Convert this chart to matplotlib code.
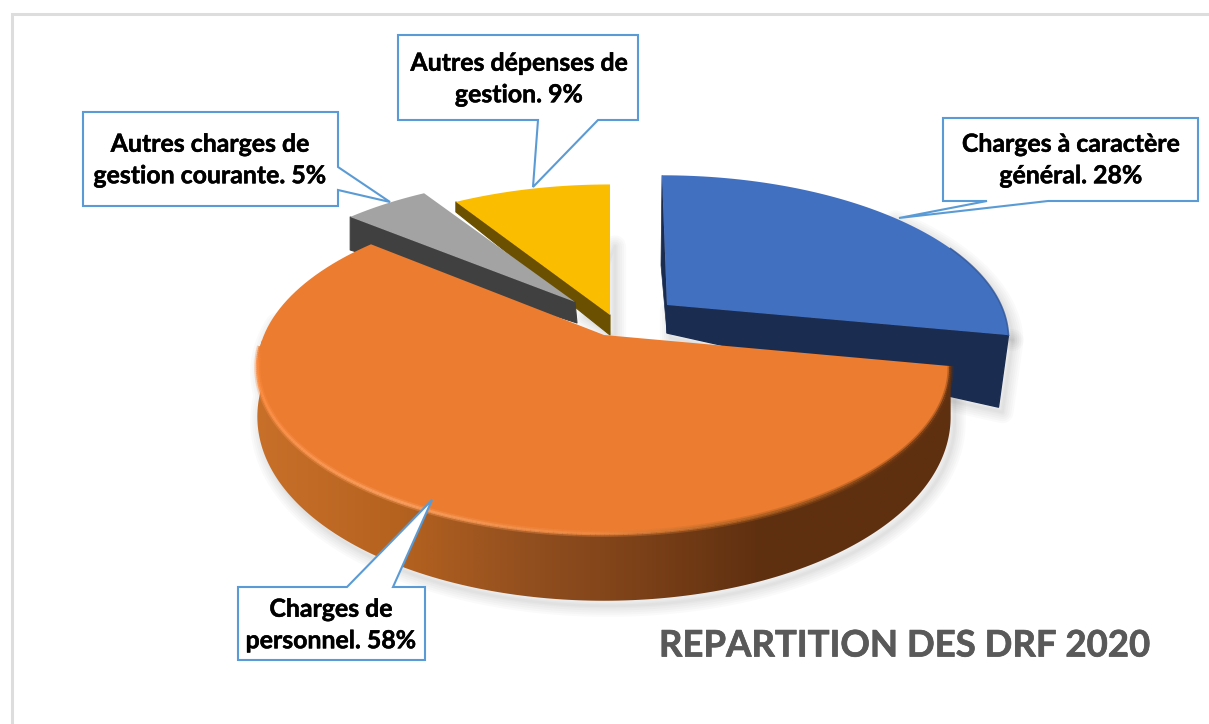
import numpy as np
import matplotlib
matplotlib.use('Agg')
import matplotlib.pyplot as plt
import matplotlib.patheffects as pe
from matplotlib.patches import Polygon
from matplotlib.collections import LineCollection
from matplotlib.colors import to_rgb

categories = ['Charges à caractère\ngénéral', 'Charges de\npersonnel',
              'Autres charges de\ngestion courante', 'Autres dépenses de\ngestion']
values = [28, 58, 5, 9]
top_colors = ['#4270C0', '#EB7C30', '#A3A3A3', '#FBBD00']
wall_colors = ['#1A2C50', '#5F3010', '#404040', '#6A5000']
title = 'REPARTITION DES DRF 2020'

# couleurs du mur orange, de gauche a droite
wall_stops_x = [255, 400, 520, 640, 760, 950]
wall_stops_c = ['#C8702A', '#B5621F', '#94501F', '#7C4118', '#5F3010', '#5F3010']
# reflet sur le bord de la part orange (angle, couleur)
rim_stops_a = [-176, -170, -120, -92, -70, -45, -10.8]
rim_stops_c = ['#EB7C30', '#FF8A3C', '#FBA060', '#F08A42', '#B0601F', '#70380F', '#5F3010']

K = 0.195
centers = [(667, 305), (604, 335), (575, 302), (610, 315)]
radii = [(334, 155), (340, 160), (328, 150), (335, 156)]
lean = [-5, 0, 0, 0]
apex_drop = [28, 0, 21, 20]
tip_drop = [(-10, 72), (0, 0), (0, 33), (0, 10)]

boxes = [(943, 118, 1198, 201), (238, 587, 425, 660), (83, 112, 338, 206), (398, 35, 638, 120)]
pointers = [[(1048, 201), (899, 218), (987, 201)],
            [(347, 587), (432, 500), (393, 587)],
            [(338, 167), (390, 202), (338, 190)],
            [(598, 120), (533, 187), (538, 120)]]
text_pos = [(1071, 160), (331, 625), (210, 160), (519, 79)]

plt.rcParams['font.family'] = ['Lato', 'DejaVu Sans']


def project(i, angles):
    a = np.radians(angles)
    u, v = np.cos(a), np.sin(a)
    d = 1 + K * v
    cx, cy = centers[i]
    b, h = radii[i]
    return cx + b * u / d + lean[i] * v, cy - h * v / d, v


def slice_poly(i, a0, a1):
    x, y, _ = project(i, np.linspace(a0, a1, 120))
    return np.r_[[centers[i]], np.c_[x, y]]


def shadow(ax, pts, dx=4, dy=5):
    pts = np.asarray(pts) + [dx, dy]
    for lw in [16, 13, 10, 7, 4, 2]:
        ax.add_patch(Polygon(pts, closed=True, fc='none', ec='#000000', lw=lw, alpha=0.02,
                             joinstyle='round', zorder=1))


def interp_colors(xs, stops_x, stops_c):
    rgb = np.array([to_rgb(c) for c in stops_c])
    return np.c_[[np.interp(xs, stops_x, rgb[:, j]) for j in range(3)]].T


fig = plt.figure(figsize=(12.09, 7.24), dpi=100)
ax = fig.add_axes([0, 0, 1, 1])
ax.set_xlim(0, 1209)
ax.set_ylim(724, 0)
ax.axis('off')

# cadre du graphique
ax.plot([12, 12, 1209], [724, 13.5, 13.5], color='#DDDDDD', lw=2.2, solid_joinstyle='miter', zorder=0)

# angles des parts, sens horaire depuis le haut
edges = 90 - np.r_[0, np.cumsum(values)] * 3.6
z = 2

# part bleue
a0, a1 = edges[0], edges[1]
top = slice_poly(0, a0, a1)
ex, ey, _ = project(0, np.array([a1]))
tx, ty, _ = project(0, np.array([a0]))
cx, cy = centers[0]
wall = [(cx, cy), (ex[0], ey[0]), (ex[0] + tip_drop[0][0], ey[0] + tip_drop[0][1]), (cx, cy + apex_drop[0])]
sliver = [(tx[0], ty[0]), (cx, cy), (cx, cy + apex_drop[0]), (tx[0] - 1, ty[0] + 90)]
shadow(ax, wall)
shadow(ax, top[60:])
ax.add_patch(Polygon(wall, fc=wall_colors[0], ec=wall_colors[0], lw=1, joinstyle='round', zorder=z))
ax.add_patch(Polygon(sliver, fc=wall_colors[0], ec=wall_colors[0], lw=0.5, zorder=z))
ax.add_patch(Polygon(top, fc=top_colors[0], ec='none', zorder=z + 1))
ax.plot(top[80:, 0], top[80:, 1], color='#2F5597', lw=1.2, alpha=0.8, zorder=z + 1)

# part jaune puis part grise
for i in [3, 2]:
    a0, a1 = edges[i], edges[i + 1]
    top = slice_poly(i, a0, a1)
    ex, ey, _ = project(i, np.array([a0]))
    cx, cy = centers[i]
    wall = [(ex[0], ey[0]), (cx, cy), (cx + (2 if i == 2 else 0), cy + apex_drop[i]),
            (ex[0] + tip_drop[i][0], ey[0] + tip_drop[i][1])]
    if i == 3:
        shadow(ax, [(cx, cy + apex_drop[i]), (top[-1][0], top[-1][1] + 60), (cx - 30, cy)], dx=5, dy=2)
    z += 2
    ax.add_patch(Polygon(wall, fc=wall_colors[i], ec=wall_colors[i], lw=0.8, joinstyle='round', zorder=z))
    ax.add_patch(Polygon(top, fc=top_colors[i], ec='none', zorder=z + 1))

# part orange : mur en degrade, dessus, reflet
z += 2
a0, a1 = edges[1], edges[2]
x, y, v = project(1, np.linspace(a0, a0 - 175, 300))
x2, y2 = x, y + 45 - 22 * v
wall = np.r_[np.c_[x, y], np.c_[x2, y2][::-1]]
shadow(ax, wall)
grad_x = np.linspace(240, 970, 300)
grad = interp_colors(grad_x, wall_stops_x, wall_stops_c)[None, :, :]
im = ax.imshow(grad, extent=(240, 970, 620, 340), aspect='auto', zorder=z, interpolation='bilinear')
im.set_clip_path(Polygon(wall, transform=ax.transData))
ax.set_xlim(0, 1209)
ax.set_ylim(724, 0)
top = slice_poly(1, a0, a1 - 360 if a1 > a0 else a1)
ax.add_patch(Polygon(top, fc=top_colors[1], ec='none', zorder=z + 1))

# reflet flou : deux passes
rim_a = np.linspace(rim_stops_a[0], rim_stops_a[-1], 260)
rx, ry, _ = project(1, rim_a)
rim_pts = np.c_[rx, ry].reshape(-1, 1, 2)
segs = np.concatenate([rim_pts[:-1], rim_pts[1:]], axis=1)
rim_cols = interp_colors(rim_a[:-1], rim_stops_a, rim_stops_c)
ax.add_collection(LineCollection(segs, colors=rim_cols, linewidths=4.5, alpha=0.35, zorder=z + 2))
ax.add_collection(LineCollection(segs, colors=rim_cols, linewidths=2.2, alpha=0.8, zorder=z + 2))

# etiquettes
heavy = [pe.withStroke(linewidth=0.35, foreground='black')]
for i in range(4):
    x0, y0, x1, y1 = boxes[i]
    p = pointers[i]
    if p[0][0] == p[2][0]:  # pointe a droite
        pts = [(x0, y0), (x1, y0), p[0], p[1], p[2], (x1, y1), (x0, y1)]
    elif p[0][1] == y0:  # pointe en haut
        pts = [(x0, y0), p[0], p[1], p[2], (x1, y0), (x1, y1), (x0, y1)]
    else:  # pointe en bas
        pts = [(x0, y0), (x1, y0), (x1, y1), p[0], p[1], p[2], (x0, y1)]
    ax.add_patch(Polygon(pts, fc='white', ec='#5B9BD5', lw=1.5, joinstyle='miter', zorder=30))
    ax.text(text_pos[i][0], text_pos[i][1], f'{categories[i]}. {values[i]}%', ha='center', va='center',
            fontsize=17.9, fontweight='bold', color='black', linespacing=1.45, zorder=31,
            path_effects=heavy)

ax.text(904, 646, title, ha='center', va='center', fontsize=26.3, fontweight='bold', color='#595959', zorder=31,
        path_effects=[pe.withStroke(linewidth=0.5, foreground='#595959')])

fig.savefig('out.png', dpi=100)
